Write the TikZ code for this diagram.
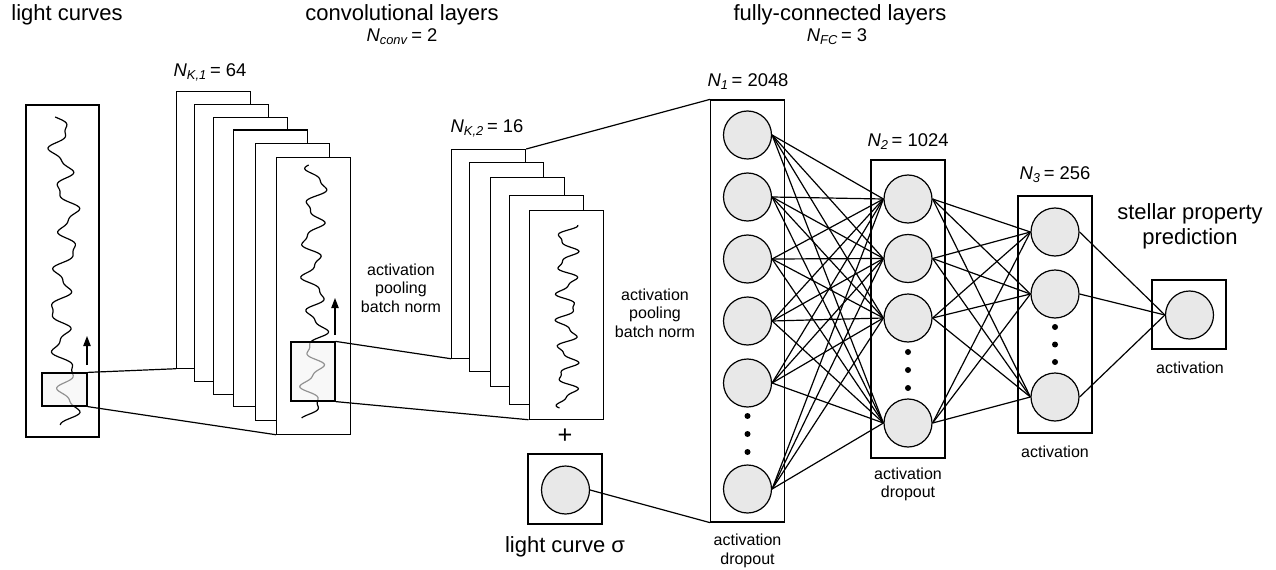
\documentclass[tikz,border=0pt]{standalone}
\usepackage{fontspec}
\setmainfont{Liberation Sans}
\usetikzlibrary{arrows.meta}

\definecolor{neurongray}{RGB}{232,232,232}
\definecolor{windowgray}{RGB}{244,244,244}

\tikzset{every picture/.style={line width=0.9pt}}
\tikzset{
  fmapone/.style={draw, fill=white, inner sep=0pt, anchor=north west, minimum width=55.5pt, minimum height=207.4pt},
  fmaptwo/.style={draw, fill=white, inner sep=0pt, anchor=north west, minimum width=55.5pt, minimum height=156.4pt},
  window/.style={draw, fill=windowgray, fill opacity=0.6, inner sep=0pt},
  neuron/.style={circle, draw, fill=neurongray, inner sep=0pt, minimum size=36pt},
  layerbox/.style={draw, inner sep=0pt, minimum width=55.5pt},
  headtext/.style={inner sep=0pt, font=\fontsize{16.5}{19}\selectfont, align=center},
  numtext/.style={inner sep=0pt, font=\fontsize{13.8}{16}\selectfont},
  opstext/.style={inner sep=0pt, font=\fontsize{12}{14}\selectfont, align=center},
  stride/.style={-{Triangle[length=7.5pt,width=5.5pt]}}
}

\begin{document}
\begin{tikzpicture}[x=0.75pt,y=0.75pt,yscale=-1,xscale=1]
\path[use as bounding box] (0,0) rectangle (1276,570);

% Text Node: headers
\node[headtext] (hlc) at (67,15) {light curves};
\node[headtext] (hconv) at (402,15) {convolutional layers};
\node[numtext] (nconv) at (402,37) {\textit{N}\textsubscript{\textit{conv}}\,= 2};
\node[headtext] (hfc) at (840,15) {fully-connected layers};
\node[numtext] (nfc) at (837,37) {\textit{N}\textsubscript{\textit{FC}}\,= 3};

%Shape: light curve input
\node[draw, inner sep=0pt, minimum width=54.75pt, minimum height=249pt] (lcbox) at (62.5,271) {};
\draw plot[domain=117:425, samples=200, smooth] ({64+9*sin(9*\x)+3*sin(21*\x+50)+5*sin(2*\x)}, \x);
\node[window, minimum width=33.75pt, minimum height=24.75pt] (lcwin) at (64.5,389.5) {};
\coordinate (lcarr) at (87,365);
\draw[stride] (lcarr) -- ++(0,-29);

%Shape: first convolutional layer
\node[numtext] (nk1) at (210,72) {\textit{N}\textsubscript{\textit{K,1}}\,= 64};
\node[fmapone] (c1a) at (176,91) {};
\node[fmapone] (c1b) at (194,104.3) {};
\node[fmapone] (c1c) at (213,117) {};
\node[fmapone] (c1d) at (233,129.5) {};
\node[fmapone] (c1e) at (255,143) {};
\node[fmapone] (c1f) at (276,157) {};
\draw plot[domain=165:418, samples=200, smooth] ({314+9*sin(10*\x+20)+3*sin(23*\x)+3*sin(2.5*\x)}, \x);
\node[window, minimum width=33pt, minimum height=44.25pt] (c1win) at (313,371.5) {};
\coordinate (c1arr) at (335,335);
\draw[stride] (c1arr) -- ++(0,-37);

% Text Node
\node[opstext] (ops1) at (401,288) {activation\\pooling\\batch norm};

%Shape: second convolutional layer
\node[numtext] (nk2) at (487,128) {\textit{N}\textsubscript{\textit{K,2}}\,= 16};
\node[fmaptwo] (c2a) at (451,149) {};
\node[fmaptwo] (c2b) at (468.5,162) {};
\node[fmaptwo] (c2c) at (489.5,177) {};
\node[fmaptwo] (c2d) at (509,195) {};
\node[fmaptwo] (c2e) at (528.5,210) {};
\draw plot[domain=225:408, samples=180, smooth] ({567+9*sin(13*\x+60)+3*sin(29*\x)}, \x);

% Text Node
\node[opstext] (ops2) at (655,313) {activation\\pooling\\batch norm};

%Shape: light curve sigma
\node[inner sep=0pt, font=\fontsize{19}{21}\selectfont] (plus) at (565,436) {+};
\node[layerbox, minimum height=52.5pt] (sigbox) at (565,489) {};
\node[neuron] (sig) at (565.5,490) {};
\node[headtext] (hsig) at (565,547) {light curve σ};

%Shape: first fully-connected layer
\node[numtext] (n1) at (748,82) {\textit{N}\textsubscript{\textit{1}}\,= 2048};
\node[layerbox, minimum height=316.5pt] (fc1box) at (747.5,311) {};
\node[neuron] (fc1n1) at (747.5,135) {};
\node[neuron] (fc1n2) at (747.5,197) {};
\node[neuron] (fc1n3) at (747.5,259) {};
\node[neuron] (fc1n4) at (747.5,321) {};
\node[neuron] (fc1n5) at (747.5,383) {};
\node[neuron] (fc1n6) at (747.5,489) {};
\fill (747.5,416) circle (3) (747.5,434) circle (3) (747.5,452) circle (3);
\node[opstext] (ops3) at (747.5,551) {activation\\dropout};

%Shape: second fully-connected layer
\node[numtext] (n2) at (908,142) {\textit{N}\textsubscript{\textit{2}}\,= 1024};
\node[layerbox, minimum height=223.5pt] (fc2box) at (908,309) {};
\node[neuron] (fc2n1) at (908,199) {};
\node[neuron] (fc2n2) at (908,258.5) {};
\node[neuron] (fc2n3) at (908,318) {};
\node[neuron] (fc2n4) at (908,423) {};
\fill (908,352) circle (3) (908,370) circle (3) (908,388) circle (3);
\node[opstext] (ops4) at (908,484.5) {activation\\dropout};

%Shape: third fully-connected layer
\node[numtext] (n3) at (1055,175) {\textit{N}\textsubscript{\textit{3}}\,= 256};
\node[layerbox, minimum height=177.75pt] (fc3box) at (1055,314.5) {};
\node[neuron] (fc3n1) at (1055,232) {};
\node[neuron] (fc3n2) at (1055,294) {};
\node[neuron] (fc3n3) at (1055,397) {};
\fill (1055,327) circle (3) (1055,344.5) circle (3) (1055,362) circle (3);
\node[opstext] (ops5) at (1055,452) {activation};

%Shape: output
\node[headtext, font=\fontsize{16.5}{18.75}\selectfont] (hout) at (1190,226) {stellar property\\prediction};
\node[layerbox, minimum height=51.75pt] (outbox) at (1189,314.5) {};
\node[neuron] (outn) at (1189.5,315) {};
\node[opstext] (ops6) at (1190,368) {activation};

%Straight Lines
\draw (lcwin.north east) -- (c1a.south west);
\draw (lcwin.south east) -- (c1f.south west);
\draw (c1win.north east) -- (c2a.south west);
\draw (c1win.south east) -- (c2e.south west);
\draw (c2a.north east) -- (fc1box.north west);
\draw (sig.east) -- (fc1box.south west);
\foreach \i in {1,...,6}
  \foreach \j in {1,...,4}
    \draw (fc1n\i.east) -- (fc2n\j.west);
\foreach \i in {1,...,4}
  \foreach \j in {1,...,3}
    \draw (fc2n\i.east) -- (fc3n\j.west);
\foreach \i in {1,...,3}
  \draw (fc3n\i.east) -- (outn.west);

\end{tikzpicture}
\end{document}
